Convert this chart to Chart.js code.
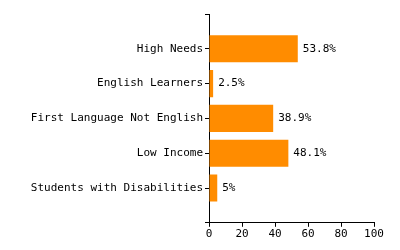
<!DOCTYPE html>
<html>
<head>
<meta charset="utf-8">
<script src="https://cdn.jsdelivr.net/npm/chart.js@4"></script>
<style>
  body { margin: 0; background: #fff; }
</style>
</head>
<body>
<canvas id="chart" width="400" height="250"></canvas>
<script>
// empty labels at both ends give the blank space above and below the bars
const categories = ['', 'High Needs', 'English Learners', 'First Language Not English', 'Low Income', 'Students with Disabilities', ''];
const percentages = [null, 53.8, 2.5, 38.9, 48.1, 5, null];
const xTicks = [0, 20, 40, 60, 80, 100];

const barLabels = {
  id: 'barLabels',
  afterDatasetsDraw(chart) {
    const ctx = chart.ctx;
    const meta = chart.getDatasetMeta(0);
    ctx.save();
    ctx.font = '11px "DejaVu Sans Mono", monospace';
    ctx.fillStyle = '#000';
    ctx.textAlign = 'left';
    ctx.textBaseline = 'middle';
    meta.data.forEach((bar, i) => {
      const v = percentages[i];
      if (v == null) return;
      ctx.fillText(v + '%', bar.x + 5, bar.y);
    });
    ctx.restore();
  }
};

new Chart(document.getElementById('chart').getContext('2d'), {
  type: 'bar',
  data: {
    labels: categories,
    datasets: [{
      data: percentages,
      backgroundColor: '#ff8c00',
      borderWidth: 0,
      barPercentage: 0.78,
      categoryPercentage: 1
    }]
  },
  options: {
    indexAxis: 'y',
    responsive: false,
    animation: false,
    layout: { padding: { top: 14, right: 26, bottom: 8, left: 0 } },
    plugins: {
      legend: { display: false },
      tooltip: { enabled: false }
    },
    scales: {
      y: {
        type: 'category',
        offset: false,
        afterFit: (scale) => { scale.width = 209; },
        grid: { offset: false, drawOnChartArea: false, drawTicks: true, tickLength: 4, color: '#000' },
        border: { display: true, color: '#000' },
        ticks: {
          color: '#000',
          padding: 2,
          font: { family: '"DejaVu Sans Mono", monospace', size: 11 }
        }
      },
      x: {
        min: 0,
        max: 100,
        afterBuildTicks: (scale) => { scale.ticks = xTicks.map(v => ({ value: v })); },
        grid: { drawOnChartArea: false, drawTicks: true, tickLength: 4, color: '#000' },
        border: { display: true, color: '#000' },
        ticks: {
          color: '#000',
          padding: 1,
          maxRotation: 0,
          font: { family: '"DejaVu Sans Mono", monospace', size: 11 }
        }
      }
    }
  },
  plugins: [barLabels]
});
</script>
</body>
</html>
